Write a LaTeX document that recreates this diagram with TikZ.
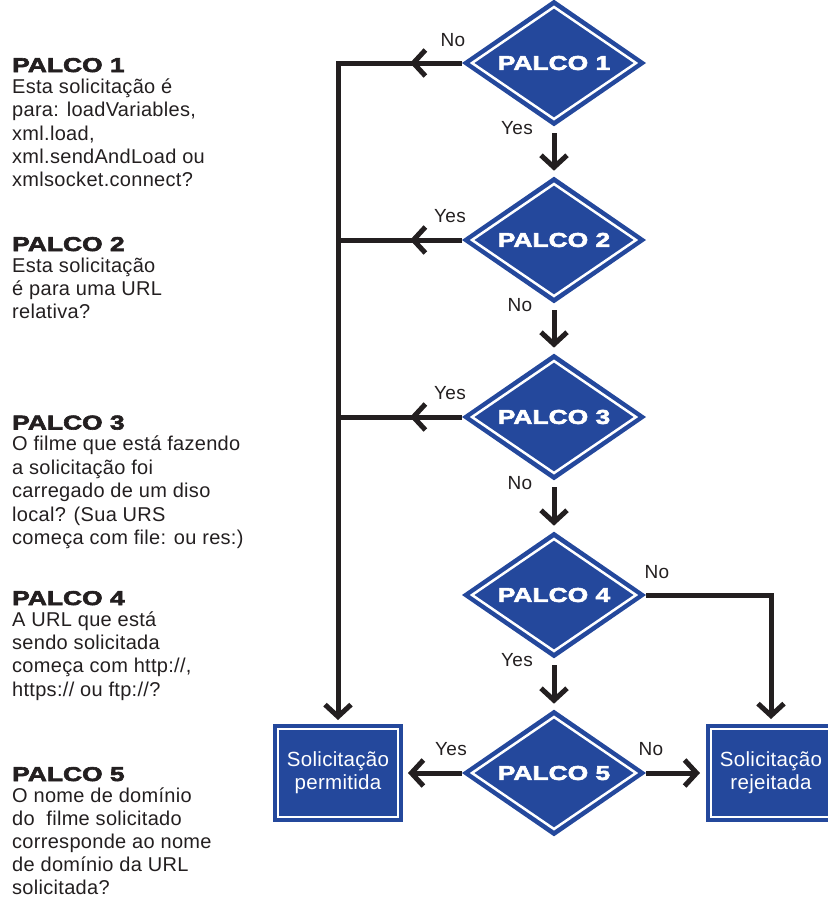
\documentclass[tikz,border=0pt]{standalone}
\usepackage{fontspec}
\setmainfont{Liberation Sans}[LetterSpace=1.5]
\newfontfamily\heavyfont{Liberation Sans Bold}[FakeStretch=1.32,FakeBold=3]
\usetikzlibrary{shapes.geometric,arrows.meta,decorations.markings,calc}
\definecolor{pblue}{RGB}{36,72,156}
\definecolor{ink}{RGB}{35,31,32}
\tikzset{
  dia/.style={diamond, fill=pblue, inner sep=0pt, outer sep=0pt,
    minimum width=184pt, minimum height=124pt, text=white,
    font=\heavyfont\fontsize{20}{24}\selectfont},
  box/.style={rectangle, fill=pblue, inner sep=0pt, outer sep=0pt,
    minimum width=130pt, minimum height=98pt, text=white, align=center,
    font=\fontsize{20.5}{23}\selectfont},
  chev/.tip={Straight Barb[length=12pt,width=26pt]},
  conn/.style={draw=ink, line width=5pt},
  arr/.style={conn, -chev},
  midarrow/.style={postaction={decorate}, decoration={markings,
    mark=at position 52pt with {\arrow[ink, line width=5pt]{chev}}}},
  inline/.style={draw=white, line width=2.5pt},
  lbl/.style={font=\fontsize{19}{21}\selectfont, text=ink, inner sep=0pt},
  head/.style={anchor=base west, inner sep=0pt,
    font=\heavyfont\fontsize{20}{24}\selectfont, text=ink},
  body/.style={anchor=base west, inner sep=0pt,
    font=\fontsize{20}{24}\selectfont, text=ink},
}
\begin{document}
\begin{tikzpicture}[x=1pt,y=-1pt]
\useasboundingbox (0,0) rectangle (828,898);

% diamonds
\node[dia] (d1) at (554,63) {PALCO 1};
\node[dia] (d2) at (554,240) {PALCO 2};
\node[dia] (d3) at (554,417) {PALCO 3};
\node[dia] (d4) at (554,595) {PALCO 4};
\node[dia] (d5) at (554,773) {PALCO 5};
\foreach \n in {d1,d2,d3,d4,d5}
  \draw[inline] (\n.center) ++(-82,0) -- ++(82,-56) -- ++(82,56) -- ++(-82,56) -- cycle;

% boxes
\node[box] (ok) at (338,773) {Solicitação\\permitida};
\node[box] (bad) at (771,773) {Solicitação\\rejeitada};
\draw[inline] ($(ok.north west)+(5,5)$) rectangle ($(ok.south east)+(-5,-5)$);
\draw[inline] ($(bad.north west)+(5,5)$) rectangle ($(bad.south east)+(-5,-5)$);

% connectors
\coordinate (tr) at (ok.north |- d1.west);
\draw[arr, midarrow, shorten >=4pt] (d1.west) -- (tr) -- (ok.north);
\draw[conn, midarrow] (d2.west) -- (d2.west -| tr);
\draw[conn, midarrow] (d3.west) -- (d3.west -| tr);
\draw[arr, shorten <=7pt, shorten >=6pt] (d1.south) -- (d2.north);
\draw[arr, shorten <=7pt, shorten >=6pt] (d2.south) -- (d3.north);
\draw[arr, shorten <=7pt, shorten >=6pt] (d3.south) -- (d4.north);
\draw[arr, shorten <=7pt, shorten >=6pt] (d4.south) -- (d5.north);
\coordinate (c4) at (d4.east -| bad.north);
\draw[arr, shorten >=5pt] (d4.east) -- (c4) -- (bad.north);
\draw[arr, shorten >=5pt] (d5.west) -- (ok.east);
\draw[arr, shorten >=6pt] (d5.east) -- (bad.west);

% labels
\node[lbl] (l1n) at (453,40) {No};
\node[lbl] (l1y) at (517,128) {Yes};
\node[lbl] (l2y) at (450,216) {Yes};
\node[lbl] (l2n) at (520,305) {No};
\node[lbl] (l3y) at (450,393) {Yes};
\node[lbl] (l3n) at (520,483) {No};
\node[lbl] (l4n) at (657,572) {No};
\node[lbl] (l4y) at (517,660) {Yes};
\node[lbl] (l5y) at (451,749) {Yes};
\node[lbl] (l5n) at (651,749) {No};

% left texts
\node[head] (h1) at (12,72) {PALCO 1};
\node[body] (t1a) at (12,93.3) {Esta solicitação é};
\node[body] (t1b) at (12,116.7) {para: loadVariables,};
\node[body] (t1c) at (12,140) {xml.load,};
\node[body] (t1d) at (12,163.4) {xml.sendAndLoad ou};
\node[body] (t1e) at (12,186.8) {xmlsocket.connect?};

\node[head] (h2) at (12,251) {PALCO 2};
\node[body] (t2a) at (12,272) {Esta solicitação};
\node[body] (t2b) at (12,295.4) {é para uma URL};
\node[body] (t2c) at (12,318.8) {relativa?};

\node[head] (h3) at (12,429.5) {PALCO 3};
\node[body] (t3a) at (12,450.5) {O filme que está fazendo};
\node[body] (t3b) at (12,474) {a solicitação foi};
\node[body] (t3c) at (12,497.5) {carregado de um diso};
\node[body] (t3d) at (12,521) {local? (Sua URS};
\node[body] (t3e) at (12,544.5) {começa com file: ou res:)};

\node[head] (h4) at (12,605) {PALCO 4};
\node[body] (t4a) at (12,626) {A URL que está};
\node[body] (t4b) at (12,649.4) {sendo solicitada};
\node[body] (t4c) at (12,672.8) {começa com http://,};
\node[body] (t4d) at (12,696.2) {https:// ou ftp://?};

\node[head] (h5) at (12,781) {PALCO 5};
\node[body] (t5a) at (12,802) {O nome de domínio};
\node[body] (t5b) at (12,825.2) {do\ \ filme solicitado};
\node[body] (t5c) at (12,848.4) {corresponde ao nome};
\node[body] (t5d) at (12,871.6) {de domínio da URL};
\node[body] (t5e) at (12,894.8) {solicitada?};
\end{tikzpicture}
\end{document}
